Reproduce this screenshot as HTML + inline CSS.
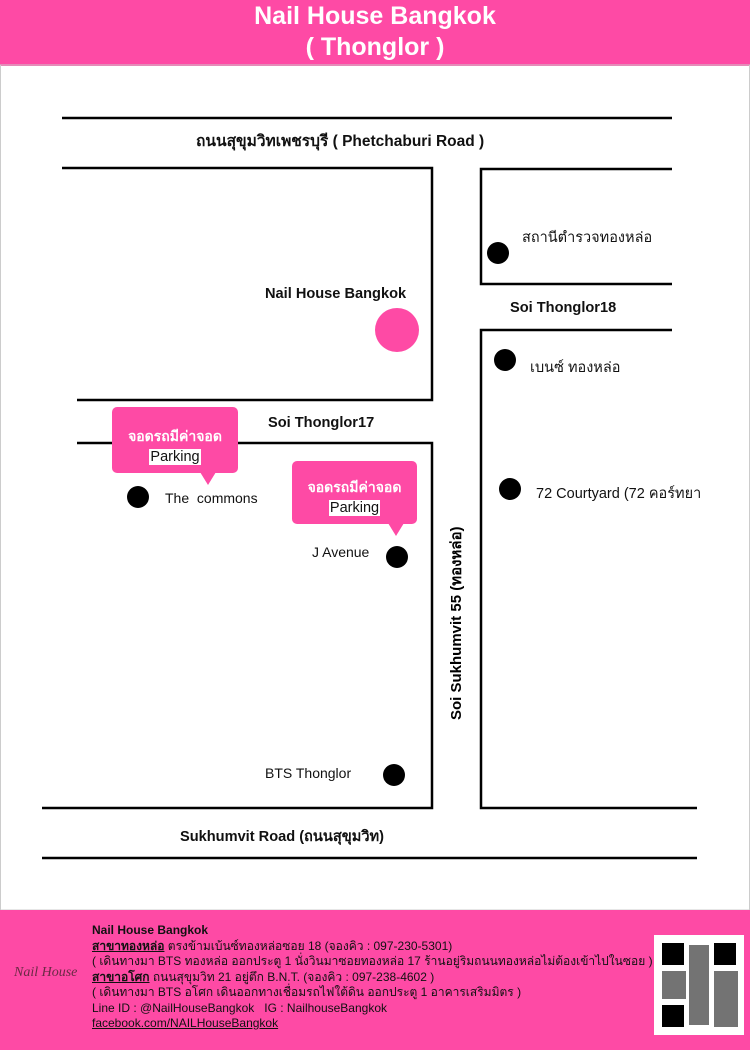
<!DOCTYPE html>
<html><head><meta charset="utf-8"><style>
body{margin:0;width:750px;height:1050px;background:#fff;overflow:hidden;font-family:"Liberation Sans","Noto Sans CJK SC",sans-serif;position:relative}
.hdr{position:absolute;left:0;top:0;width:750px;height:65px;background:#fe4aa5;color:#fff;font-weight:bold;font-size:25px;text-align:center;line-height:31px;padding-top:1px}
.ftr{position:absolute;left:0;top:910px;width:750px;height:140px;background:#fe4aa5}
.ft{position:absolute;left:92px;top:13px;font-size:12px;line-height:15.5px;color:#111}
.ft u{font-weight:bold}
.qr{position:absolute;left:654px;top:25px;width:90px;height:100px;background:#fff}
.t{position:absolute;font-size:14px;color:#111;white-space:nowrap}
.b{font-weight:bold;font-size:14.6px}
.bub{position:absolute;background:#fe4aa5;border-radius:5px;color:#fff;font-weight:bold;font-size:14px;text-align:center;box-sizing:border-box}
.bub span{display:inline-block;background:#fff;color:#111;font-weight:normal;padding:0 1px;margin-top:1px;font-size:14.5px}
.tail{position:absolute;width:0;height:0;border-left:8px solid transparent;border-right:8px solid transparent;border-top:13px solid #fe4aa5}
</style></head><body>
<div class="hdr">Nail House Bangkok<br>( Thonglor )</div>
<svg width="750" height="1050" style="position:absolute;left:0;top:0">
<rect x="0.5" y="65" width="749" height="845" fill="none" stroke="#ccc"/>
<g stroke="#000" stroke-width="2.5" fill="none">
<line x1="62" y1="118" x2="672" y2="118"/>
<polyline points="62,168 432,168 432,400 77,400"/>
<polyline points="672,169 481,169 481,284 672,284"/>
<polyline points="672,330 481,330 481,808 697,808"/>
<polyline points="77,443 432,443 432,808 42,808"/>
<line x1="42" y1="858" x2="697" y2="858"/>
</g>
<circle cx="397" cy="330" r="22" fill="#fe4aa5"/>
<g fill="#000">
<circle cx="498" cy="253" r="11"/><circle cx="505" cy="360" r="11"/><circle cx="510" cy="489" r="11"/>
<circle cx="138" cy="497" r="11"/><circle cx="397" cy="557" r="11"/><circle cx="394" cy="775" r="11"/>
</g>
<text x="0" y="0" transform="translate(461,720) rotate(-90)" font-family="Liberation Sans,Noto Sans CJK SC,sans-serif" font-size="15" font-weight="bold">Soi Sukhumvit 55 (ทองหล่อ)</text>
</svg>
<div class="t b" style="left:196px;top:128px;font-size:15.5px">ถนนสุขุมวิทเพชรบุรี ( Phetchaburi Road )</div>
<div class="t" style="left:522px;top:226px;font-size:14.5px">สถานีตำรวจทองหล่อ</div>
<div class="t b" style="left:265px;top:286px">Nail House Bangkok</div>
<div class="t b" style="left:510px;top:300px">Soi Thonglor18</div>
<div class="t" style="left:530px;top:356px;font-size:14.5px">เบนซ์ ทองหล่อ</div>
<div class="t b" style="left:268px;top:415px">Soi Thonglor17</div>
<div class="t" style="left:536px;top:482px;font-size:14.5px">72 Courtyard (72 คอร์ทยา</div>
<div class="t" style="left:165px;top:490px">The&nbsp; commons</div>
<div class="t" style="left:312px;top:544px">J Avenue</div>
<div class="t" style="left:265px;top:765px">BTS Thonglor</div>
<div class="t b" style="left:180px;top:825px">Sukhumvit Road (ถนนสุขุมวิท)</div>
<div class="bub" style="left:112px;top:407px;width:126px;height:66px;padding-top:19px">จอดรถมีค่าจอด<br><span>Parking</span></div>
<div class="tail" style="left:200px;top:472px"></div>
<div class="bub" style="left:292px;top:461px;width:125px;height:63px;padding-top:16px">จอดรถมีค่าจอด<br><span>Parking</span></div>
<div class="tail" style="left:388px;top:523px"></div>
<div class="ftr">
<div style="position:absolute;left:14px;top:55px;font-family:'Liberation Serif',serif;font-style:italic;color:#6a2a44;font-size:14px">Nail House</div>
<div class="ft"><b>Nail House Bangkok</b><br><u>สาขาทองหล่อ</u> ตรงข้ามเบ้นซ์ทองหล่อซอย 18 (จองคิว : 097-230-5301)<br>( เดินทางมา BTS ทองหล่อ ออกประตู 1 นั่งวินมาซอยทองหล่อ 17 ร้านอยู่ริมถนนทองหล่อไม่ต้องเข้าไปในซอย )<br><u>สาขาอโศก</u> ถนนสุขุมวิท 21 อยู่ตึก B.N.T. (จองคิว : 097-238-4602 )<br>( เดินทางมา BTS อโศก เดินออกทางเชื่อมรถไฟใต้ดิน ออกประตู 1 อาคารเสริมมิตร )<br>Line ID : @NailHouseBangkok &nbsp; IG : NailhouseBangkok<br><span style="text-decoration:underline">facebook.com/NAILHouseBangkok</span></div>
<div class="qr"><svg width="90" height="100"><g fill="#000"><rect x="8" y="8" width="22" height="22"/><rect x="60" y="8" width="22" height="22"/><rect x="8" y="70" width="22" height="22"/><rect x="35" y="10" width="20" height="80" opacity=".55"/><rect x="60" y="36" width="24" height="56" opacity=".55"/><rect x="8" y="36" width="24" height="28" opacity=".55"/></g></svg></div>
</div>
</body></html>
